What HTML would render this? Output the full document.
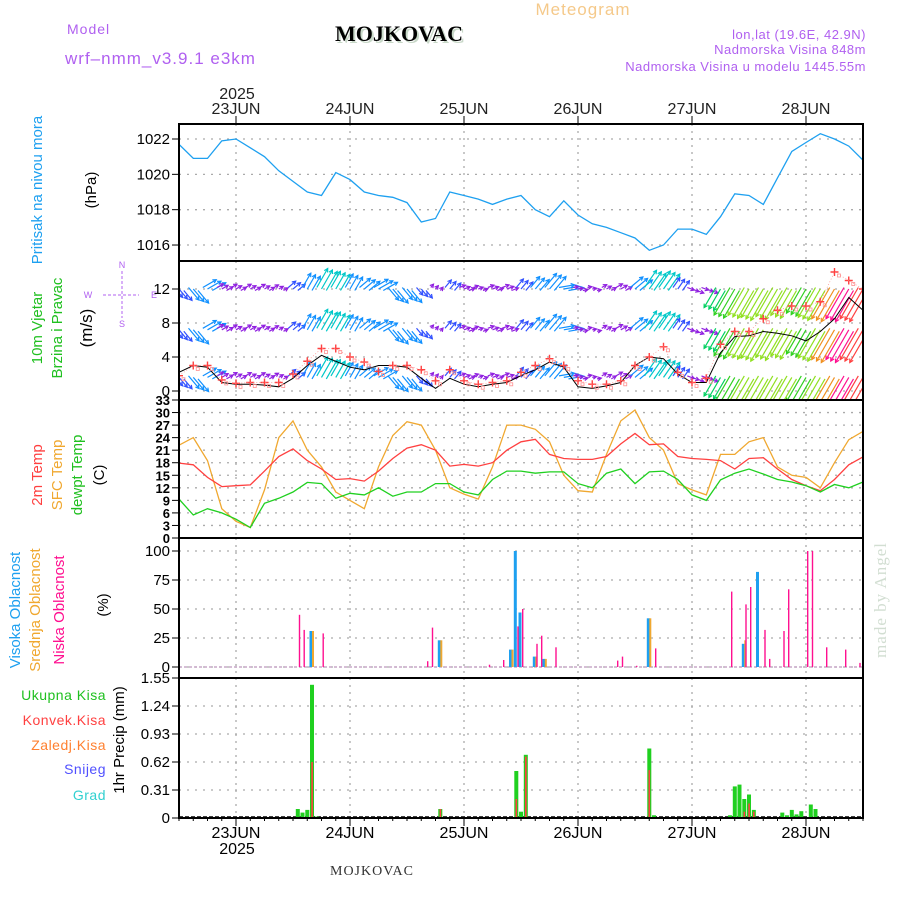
<!DOCTYPE html>
<html><head><meta charset="utf-8">
<style>
html,body{margin:0;padding:0;background:#fff;}
svg{display:block;font-family:"Liberation Sans",sans-serif;}
</style></head>
<body>
<svg id="chart" width="900" height="900" viewBox="0 0 900 900" xmlns="http://www.w3.org/2000/svg">
<rect x="0" y="0" width="900" height="900" fill="#fff"/>
<text x="583" y="15" font-size="17" fill="#f5c98a" text-anchor="middle" letter-spacing="1">Meteogram</text>
<text x="67" y="34" font-size="14" fill="#b060f0" letter-spacing="1">Model</text>
<text x="401" y="43" font-size="22" font-weight="bold" fill="#c8d8c8" text-anchor="middle" font-family="Liberation Serif,serif">MOJKOVAC</text>
<text x="399" y="41" font-size="22" font-weight="bold" fill="#000" text-anchor="middle" font-family="Liberation Serif,serif">MOJKOVAC</text>
<text x="65" y="64" font-size="17" fill="#b060f0" letter-spacing="1">wrf–nmm_v3.9.1 e3km</text>
<text x="866" y="39" font-size="13" fill="#b060f0" text-anchor="end" letter-spacing="0.5">lon,lat (19.6E, 42.9N)</text>
<text x="866" y="54" font-size="13" fill="#b060f0" text-anchor="end" letter-spacing="0.5">Nadmorska Visina 848m</text>
<text x="866" y="71" font-size="13" fill="#b060f0" text-anchor="end" letter-spacing="0.5">Nadmorska Visina u modelu 1445.55m</text>
<text x="237" y="99" font-size="16" fill="#222" text-anchor="middle">2025</text>
<text x="372" y="875" font-size="14" fill="#333" text-anchor="middle" font-family="Liberation Serif,serif" letter-spacing="1">MOJKOVAC</text>
<text x="237" y="854" font-size="16" fill="#000" text-anchor="middle">2025</text>
<text transform="translate(886,600) rotate(-90)" font-size="17" fill="#d2ded2" text-anchor="middle" font-family="Liberation Serif,serif" letter-spacing="1">made by Angel</text>

<g font-size="15" text-anchor="middle">
<text transform="translate(42,190) rotate(-90)" fill="#1ea0f0">Pritisak na nivou mora</text>
<text transform="translate(96,190) rotate(-90)" fill="#000">(hPa)</text>
<text transform="translate(42,328) rotate(-90)" fill="#20c020">10m Vjetar</text>
<text transform="translate(62,328) rotate(-90)" fill="#20c020">Brzina i Pravac</text>
<text transform="translate(92,328) rotate(-90)" fill="#000" font-size="17">(m/s)</text>
<text transform="translate(42,475) rotate(-90)" fill="#ff4040">2m Temp</text>
<text transform="translate(62,475) rotate(-90)" fill="#f0a830">SFC Temp</text>
<text transform="translate(82,475) rotate(-90)" fill="#20c020">dewpt Temp</text>
<text transform="translate(104,475) rotate(-90)" fill="#000">(C)</text>
<text transform="translate(20,610) rotate(-90)" fill="#1ea0f0">Visoka Oblacnost</text>
<text transform="translate(40,610) rotate(-90)" fill="#f0a830">Srednja Oblacnost</text>
<text transform="translate(64,610) rotate(-90)" fill="#ff1090">Niska Oblacnost</text>
<text transform="translate(108,605) rotate(-90)" fill="#000">(%)</text>
<text transform="translate(124,740) rotate(-90)" fill="#000">1hr Precip (mm)</text>
</g>
<g font-size="14" text-anchor="end" letter-spacing="0.5">
<text x="106" y="700" fill="#20c020">Ukupna  Kisa</text>
<text x="106" y="725" fill="#ff4040">Konvek.Kisa</text>
<text x="106" y="750" fill="#ff8030">Zaledj.Kisa</text>
<text x="106" y="774" fill="#5050ff">Snijeg</text>
<text x="106" y="800" fill="#30d0d0">Grad</text>
</g>
<g stroke="#b060f0" stroke-width="1" stroke-dasharray="3,2" fill="none">
<line x1="103" y1="295" x2="139" y2="295"/><line x1="122" y1="271" x2="122" y2="318"/>
</g>
<g font-size="9" fill="#b060f0" text-anchor="middle">
<text x="122" y="268">N</text>
<text x="122" y="327">S</text>
<text x="88" y="298">W</text>
<text x="154" y="298">E</text>
</g>
<g id="plot"></g>
</svg>
<script>
// ---- data (3-hourly from 22JUN 12UTC) ----
const dayLabels = ["23JUN","24JUN","25JUN","26JUN","27JUN","28JUN"];
const pressure = [1021.7,1020.9,1020.9,1021.9,1022.0,1021.5,1021.0,1020.2,1019.6,1019.0,1018.8,1020.1,1019.7,1019.0,1018.8,1018.7,1018.4,1017.3,1017.5,1019.0,1018.8,1018.6,1018.3,1018.6,1018.8,1018.0,1017.6,1018.5,1017.7,1017.2,1017.0,1016.7,1016.4,1015.7,1016.0,1016.9,1016.9,1016.6,1017.6,1018.9,1018.8,1018.3,1019.8,1021.3,1021.8,1022.3,1022.0,1021.6,1020.8];
const temp2m = [17.9,17.5,14.5,12.3,12.5,12.7,16,19.5,21.3,18.5,16.5,14,14.2,13.6,16,19,21.5,22.3,21,17.2,17.6,17.2,18,21,23,23.6,20,19,18.8,18.8,19.5,22.5,25,22.3,22.5,19.5,19,18.8,18.5,16.5,19,19.2,16.5,14,12.5,11.3,14,17.5,19.4];
const tempSfc = [22.2,24,18.5,7,4,2.5,11.5,24,28,21,17,11,9,7,17,24.5,27.8,27,21,12,10.5,9.3,17,27,27,26,23,15,11.3,11,20,28,30.6,24,21,13,11.5,10.3,20,20,23,24,17,15,14.5,12,18,23.5,25.5];
const dewpt = [9.3,5.5,7,6,4.5,2.5,8.3,9.5,11,13.3,13,9.5,10.7,10.3,12,10,11,11,13,13,11,10.3,14,16,16,15.5,15.8,15.8,13,12,15.5,16.5,13,15.8,16,14,10.3,9,13.9,15.5,16.5,15.3,14,13.4,12.5,11,12.8,12,13.4];
const windSpeed = [2.2,3,2.8,1,0.8,0.8,0.7,0.5,1.5,3,4.2,3.5,2.8,2.5,3,3,2.8,1.5,0.3,1.5,0.8,0.5,0.8,1,1.8,2.5,3.4,2.8,0.5,0.3,0.6,1,3,4,3.8,2,1,1,4.5,6.4,6.5,7,6.8,6.5,5.9,7,8.5,11,9.5];
const windGust = [1.8,3,3,1.3,0.9,1,1,1,2,3.5,5,5,4,3.4,2.3,3,3,2.5,1.2,2.5,1.2,0.8,1,1.2,2.2,3,3.8,3,1.2,0.8,0.8,1.2,3,4,5.2,2.2,1,1.5,5.5,7,7,8.5,9.5,10,10,10.5,14,13,12];
const windDir = [320,320,240,240,240,240,240,240,230,210,210,210,210,230,240,320,320,320,220,220,250,250,250,250,220,220,220,260,260,260,240,240,230,215,215,215,290,290,30,30,30,30,30,30,30,30,30,30,30];
// clouds (hour index, percent)
const lowCloudHours = [25,26,30,52,53,65,68,71,72,75,76,79,92,93,96,100,116,119,120,123,124,127,128,132,133,136,140,143];
const lowCloudValues = [45,32,29,5,34,2,6,35,50,20,27,17,5.5,9,1,16,65,54,69,32,7,31,67,100,100,17,15,3.5];
const midCloudHours = [28,55,70,75,77,99,119];
const midCloudValues = [31,23,15,9,7,42,23];
const highCloudHours = [28,55,70,71,72,75,77,99,119,122];
const highCloudValues = [31,23,15,100,47,9,7,42,20,82];
// precipitation (hour index, mm)
const precipHours = [25,26,27,28,29,55,71,72,73,99,100,116,117,118,119,120,121,127,128,129,130,131,133,134];
const precipTotal = [0.10,0.06,0.09,1.475,0.015,0.10,0.52,0.07,0.70,0.77,0.03,0.03,0.35,0.37,0.21,0.26,0.09,0.06,0.03,0.09,0.04,0.075,0.15,0.10];
const precipConv = [0,0,0,0.62,0,0.10,0.21,0,0.68,0.53,0,0,0,0,0.07,0.16,0.07,0,0,0,0,0,0,0];
const pressTicks = [1016,1018,1020,1022];
const windTicks = [0,4,8,12];
const tempTicks = [0,3,6,9,12,15,18,21,24,27,30,33];
const cloudTicks = [0,25,50,75,100];
const precipTicks = [0,0.31,0.62,0.93,1.24,1.55];

// ---- axes ----
const X0=179, X1=863, HOURS=144;
const xH = h => X0 + h*(X1-X0)/HOURS;
const xK = k => xH(k*3);
const yP = v => 139 + (1022-v)*17.67;
const yW = v => 391 - v*8.5;
const yT = v => 538 - v*(138/33);
const yC = v => 667 - v*1.16;
const yR = v => 818 - v*(140/1.55);
const panels = [
 {name:'pressure',top:124,bot:261,ticks:pressTicks,y:yP,fmt:v=>v},
 {name:'wind',top:261,bot:400,ticks:windTicks,y:yW,fmt:v=>v},
 {name:'temp',top:400,bot:538,ticks:tempTicks,y:yT,fmt:v=>v},
 {name:'cloud',top:538,bot:678,ticks:cloudTicks,y:yC,fmt:v=>v},
 {name:'precip',top:678,bot:818,ticks:precipTicks,y:yR,fmt:v=>v}
];
const NS='http://www.w3.org/2000/svg';
const plot=document.getElementById('plot');
function mk(tag,attrs,parent){const e=document.createElementNS(NS,tag);for(const k in attrs)e.setAttribute(k,attrs[k]);(parent||plot).appendChild(e);return e;}

const defs=mk('defs',{});
panels.forEach(p=>{const c=mk('clipPath',{id:'clip-'+p.name},defs);mk('rect',{x:X0,y:p.top,width:X1-X0,height:p.bot-p.top},c);});

panels.forEach(p=>{
  const g=mk('g',{});
  
  
  p.ticks.forEach(t=>{
    const y=p.y(t);
    mk('line',{x1:X0,x2:X1,y1:y,y2:y,stroke:'#aaa','stroke-width':1.3,'stroke-dasharray':'2,6'},g);
    mk('line',{x1:X0-7,x2:X0,y1:y,y2:y,stroke:'#000','stroke-width':1},g);
    const tx=mk('text',{x:X0-9,y:y+5,'font-size':p.name==='temp'?13:15,'text-anchor':'end',fill:'#000','font-weight':p.name==='temp'?'bold':'normal'},g);
    tx.textContent=p.fmt(t);
    
    
  });
  for(let d=0;d<6;d++){
    const x=xH(12+24*d);
    mk('line',{x1:x,x2:x,y1:p.top,y2:p.bot,stroke:'#aaa','stroke-width':1.3,'stroke-dasharray':'2,5'},g);
  }
});
dayLabels.forEach((d,i)=>{
  const x=xH(12+24*i);
  const t1=mk('text',{x:x,y:114,'font-size':16,'text-anchor':'middle',fill:'#222'});
  t1.textContent=d;
  
  
  const t2=mk('text',{x:x,y:838,'font-size':16,'text-anchor':'middle',fill:'#000'});
  t2.textContent=d;
  
  
  mk('line',{x1:x,x2:x,y1:116,y2:124,stroke:'#000'});
  mk('line',{x1:x,x2:x,y1:818,y2:826,stroke:'#000'});
});
for(let h=0;h<=HOURS;h+=3){mk('line',{x1:xH(h),x2:xH(h),y1:818,y2:821,stroke:'#000'});}

function polyline(arr,yf,color,name,clip,w){
  const pts=arr.map((v,k)=>xK(k).toFixed(1)+','+yf(v).toFixed(1)).join(' ');
  const e=mk('polyline',{points:pts,fill:'none',stroke:color,'stroke-width':w||1.3,'clip-path':'url(#clip-'+clip+')'});
  
  
  return e;
}
polyline(pressure,yP,'#1ea0f0','pressure-line','pressure');

function windColor(s){
  if(s<1.5)return '#9020e0'; if(s<2.5)return '#3050ff'; if(s<3.5)return '#1090ff';
  if(s<4.5)return '#00c8c8'; if(s<5.5)return '#00d060'; if(s<6.5)return '#30d020';
  if(s<7.5)return '#90e020'; if(s<8.5)return '#e0d020'; if(s<9.5)return '#f09020';
  if(s<11)return '#ff4040'; return '#ff1090';
}
const wg=mk('g',{'clip-path':'url(#clip-wind)'});


const rows=[12,7.2,1.6];
windSpeed.forEach((s,k)=>{
  const toward=(windDir[k]+180)*Math.PI/180;
  const len=Math.min(3+s*4.5,36);
  const dx=Math.sin(toward)*len, dy=-Math.cos(toward)*len;
  const col=windColor(s);
  rows.forEach(r=>{
    for(let j=-1;j<=1;j++){
      const x=xK(k)+j*4.75, y=yW(r)+(j===0?0:1.5*j);
      const x2=x+dx,y2=y+dy;
      const a=mk('path',{d:`M${x.toFixed(1)},${y.toFixed(1)}L${x2.toFixed(1)},${y2.toFixed(1)}`,stroke:col,'stroke-width':1.2,fill:'none'},wg);
      
      
      const ang=Math.atan2(dy,dx);
      const hx1=x2-4*Math.cos(ang-0.5),hy1=y2-4*Math.sin(ang-0.5);
      const hx2=x2-4*Math.cos(ang+0.5),hy2=y2-4*Math.sin(ang+0.5);
      mk('path',{d:`M${hx1.toFixed(1)},${hy1.toFixed(1)}L${x2.toFixed(1)},${y2.toFixed(1)}L${hx2.toFixed(1)},${hy2.toFixed(1)}`,stroke:col,'stroke-width':1.2,fill:'none'},wg);
    }
  });
});
polyline(windSpeed,yW,'#000','wind-speed-line','wind',1);
const gg=mk('g',{'clip-path':'url(#clip-wind)'});


windGust.forEach((v,k)=>{
  const x=xK(k),y=yW(v);
  const m=mk('path',{d:`M${x-4},${y}H${x+4}M${x},${y-4}V${y+4}`,stroke:'#ff4040','stroke-width':1.4,fill:'none'},gg);
  
  
  mk('rect',{x:x+3,y:y+2,width:3,height:3,fill:'none',stroke:'#ff9090','stroke-width':0.8},gg);
});
mk('polyline',{points:windGust.map((v,k)=>xK(k)+','+yW(v)).join(' '),fill:'none',stroke:'#ff9090','stroke-width':0.7,'stroke-dasharray':'1,2','clip-path':'url(#clip-wind)'});

polyline(tempSfc,yT,'#f0a830','sfc-temp-line','temp');
polyline(temp2m,yT,'#ff4040','t2m-line','temp');
polyline(dewpt,yT,'#20d020','dewpt-line','temp');

mk('line',{x1:X0,x2:X1,y1:yC(0),y2:yC(0),stroke:'#c8a8c8','stroke-width':1.5,'stroke-dasharray':'3,2'});
function cloudBars(hours,vals,color,off,w,name){
  hours.forEach((h,i)=>{
    const y=yC(vals[i]);
    const r=mk('rect',{x:(xH(h)+off).toFixed(1),y:y.toFixed(1),width:w,height:(yC(0)-y).toFixed(1),fill:color});
    
    
  });
}
cloudBars(highCloudHours,highCloudValues,'#1ea0f0',-2.5,3,'high-cloud-bar');
cloudBars(midCloudHours,midCloudValues,'#f0a830',0,2,'mid-cloud-bar');
cloudBars(lowCloudHours,lowCloudValues,'#ff1090',1,1.4,'low-cloud-bar');

mk('line',{x1:X0,x2:X1,y1:817,y2:817,stroke:'#000','stroke-width':1.5,'stroke-dasharray':'4,2'});
precipHours.forEach((h,i)=>{
  const y=yR(precipTotal[i]);
  const r=mk('rect',{x:(xH(h)-2).toFixed(1),y:y.toFixed(1),width:4,height:(yR(0)-y).toFixed(1),fill:'#20d020'});
  
  
  if(precipConv[i]>0){
    const yc=yR(precipConv[i]);
    const c=mk('rect',{x:(xH(h)-0.7).toFixed(1),y:yc.toFixed(1),width:1.6,height:(yR(0)-yc).toFixed(1),fill:'#ff4040'});
    
    
  }
});

panels.forEach(p=>{
  const f=mk('rect',{x:X0,y:p.top,width:X1-X0,height:p.bot-p.top,fill:'none',stroke:'#000','stroke-width':2});
  
  
});
</script>
</body></html>
